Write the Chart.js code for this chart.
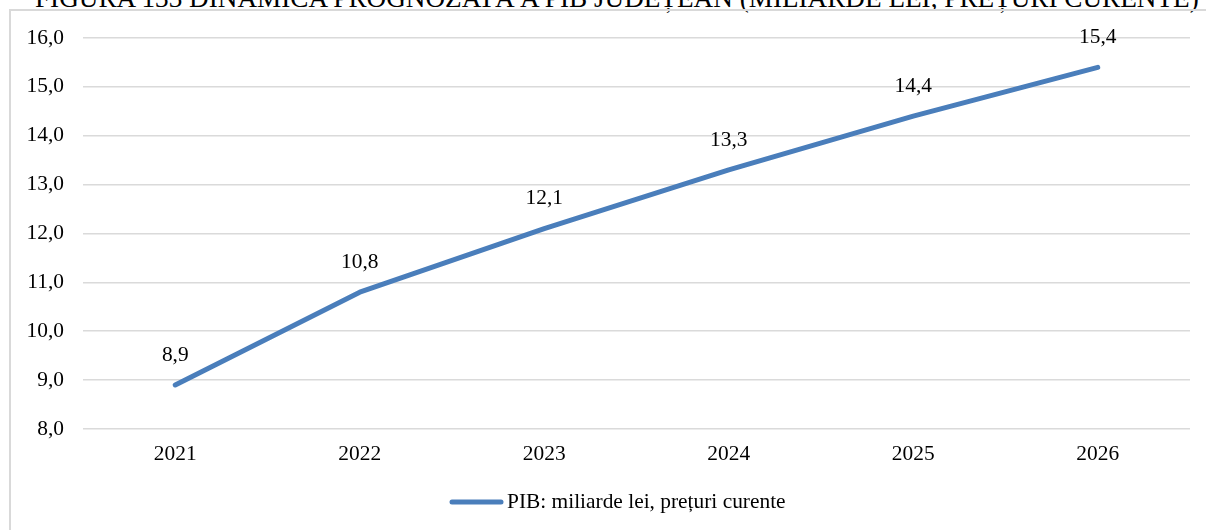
<!DOCTYPE html>
<html>
<head>
<meta charset="utf-8">
<script src="https://cdn.jsdelivr.net/npm/chart.js@4.4.0/dist/chart.umd.min.js"></script>
<style>
  html, body { margin: 0; padding: 0; background: #fff; }
  #wrap { position: relative; width: 1206px; height: 530px; overflow: hidden; }
  #title {
    position: absolute; left: 35px; top: -17px; white-space: nowrap; line-height: 1.107;
    font-family: "Liberation Serif", "Times New Roman", serif; font-size: 27.2px; color: #000;
  }
  #box {
    position: absolute; left: 9px; top: 9px; width: 1300px; height: 600px;
    border-top: 2px solid #d9d9d9; border-left: 2px solid #d9d9d9;
  }
  #c { position: absolute; left: 0; top: 0; }
</style>
</head>
<body>
<div id="wrap">
  <div id="title">FIGURA 133 DINAMICA PROGNOZATĂ A PIB JUDEȚEAN (MILIARDE LEI, PREȚURI CURENTE)</div>
  <div id="box"></div>
  <canvas id="c" width="1206" height="530"></canvas>
</div>
<script>
    const years = ['2021', '2022', '2023', '2024', '2025', '2026'];
    const pibValues = [8.9, 10.8, 12.1, 13.3, 14.4, 15.4];
    const seriesLabel = 'PIB: miliarde lei, prețuri curente';
    const yMin = 8, yMax = 16, yStep = 1;

    const serif = '"Liberation Serif", "Times New Roman", serif';
    const lineColor = '#4a7ebb';
    const fontSize = 21.4;

    function fmt(v) {
        return Number(v).toFixed(1).replace('.', ',');
    }

    // value labels above each point
    const valueLabels = {
        id: 'valueLabels',
        afterDatasetsDraw(chart) {
            const ctx = chart.ctx;
            const meta = chart.getDatasetMeta(0);
            ctx.save();
            ctx.font = fontSize + 'px ' + serif;
            ctx.fillStyle = '#000';
            ctx.textAlign = 'center';
            ctx.textBaseline = 'middle';
            meta.data.forEach(function (pt, i) {
                ctx.fillText(fmt(pibValues[i]), pt.x, pt.y - 30);
            });
            ctx.restore();
        }
    };

    // legend drawn by hand, Excel style (short thick line + text)
    const bottomLegend = {
        id: 'bottomLegend',
        afterDraw(chart) {
            const ctx = chart.ctx;
            const ds = chart.data.datasets[0];
            const y = 502;
            ctx.save();
            ctx.strokeStyle = ds.borderColor;
            ctx.lineWidth = 5;
            ctx.lineCap = 'round';
            ctx.beginPath();
            ctx.moveTo(452, y);
            ctx.lineTo(501, y);
            ctx.stroke();
            ctx.font = fontSize + 'px ' + serif;
            ctx.fillStyle = '#000';
            ctx.textAlign = 'left';
            ctx.textBaseline = 'middle';
            ctx.fillText(ds.label, 507, y);
            ctx.restore();
        }
    };

    const ctx = document.getElementById('c').getContext('2d');
    new Chart(ctx, {
        type: 'line',
        data: {
            labels: years,
            datasets: [{
                label: seriesLabel,
                data: pibValues,
                borderColor: lineColor,
                backgroundColor: lineColor,
                borderWidth: 5,
                borderCapStyle: 'round',
                borderJoinStyle: 'round',
                pointRadius: 0,
                tension: 0
            }]
        },
        options: {
            responsive: false,
            animation: false,
            layout: { padding: { top: 38, right: 16, bottom: 41, left: 0 } },
            plugins: {
                tooltip: { enabled: false },
                legend: { display: false }
            },
            scales: {
                x: {
                    offset: true,
                    grid: { display: false, drawTicks: false },
                    border: { display: false },
                    ticks: { font: { family: serif, size: fontSize }, color: '#000', padding: 13 },
                    afterFit: function (s) { s.height = 60; }
                },
                y: {
                    min: yMin,
                    max: yMax,
                    ticks: {
                        stepSize: yStep,
                        font: { family: serif, size: fontSize },
                        color: '#000',
                        padding: 19,
                        callback: function (v) { return fmt(v); }
                    },
                    grid: { color: '#dadada', lineWidth: 1.6, drawTicks: false },
                    border: { display: false },
                    afterFit: function (s) { s.width = 83; }
                }
            }
        },
        plugins: [valueLabels, bottomLegend]
    });
</script>
</body>
</html>
